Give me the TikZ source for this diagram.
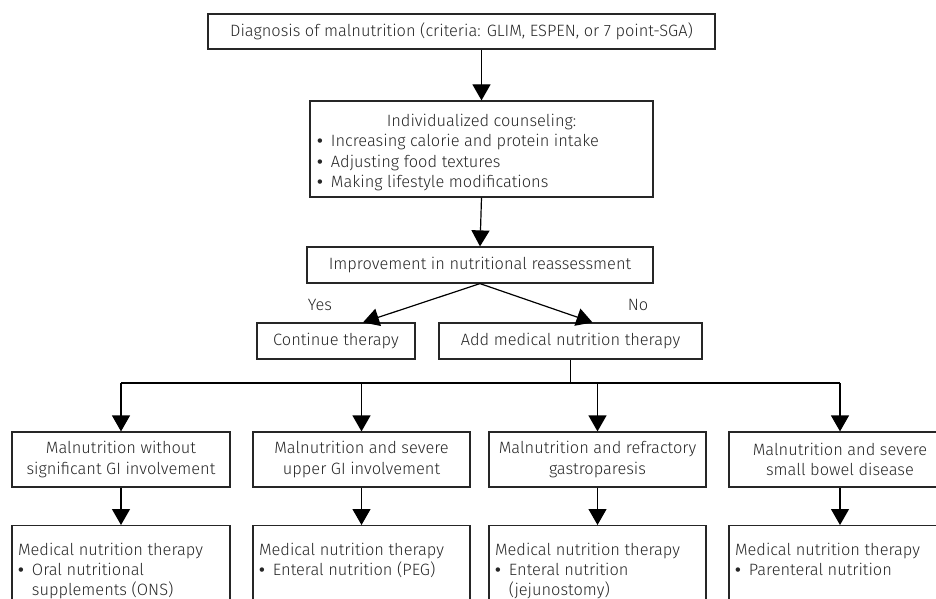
\documentclass[tikz,border=0pt]{standalone}
\usepackage{fontspec}
\setmainfont{Fira Sans Light}
\newfontfamily\bulfont{Liberation Sans}
\usetikzlibrary{arrows.meta}
\newcommand{\bul}{\makebox[0.85em][l]{\bulfont •}}
\begin{document}
\begin{tikzpicture}[x=1pt,y=1pt,
  box/.style={draw=black!85, line width=1.2pt, inner sep=0pt, text=black!85,
    font=\fontsize{16.4}{20.5}\selectfont},
  lbl/.style={text=black!85, font=\fontsize{16.4}{20.5}\selectfont},
  ln/.style={line width=1.2pt, draw=black},
  arr/.style={ln, -{Triangle[length=16pt,width=18pt]}}]
\clip (0,0) rectangle (936,-599);
% top chain
\node[box, minimum width=507, minimum height=35] (diag) at (461.5,-31.5)
  {Diagnosis of malnutrition (criteria: GLIM, ESPEN, or 7 point-SGA)};
\node[box, minimum width=343, minimum height=96] (couns) at (481.5,-149)
  {\parbox{329pt}{\vspace*{7pt}\centering Individualized counseling:\par\raggedright
   \bul Increasing calorie and protein intake\\
   \bul Adjusting food textures\\
   \bul Making lifestyle modifications}};
\node[box, minimum width=346, minimum height=36] (imp) at (480,-265)
  {Improvement in nutritional reassessment};
\node[box, minimum width=158, minimum height=36] (cont) at (336,-341)
  {Continue therapy};
\node[box, minimum width=263, minimum height=36] (add) at (570.5,-341)
  {Add medical nutrition therapy};
\node[lbl] (yes) at (320,-305) {Yes};
\node[lbl] (no) at (638,-305) {No};
% row 1
\node[box, minimum width=218, minimum height=55, align=center] (m1) at (121,-459.5)
  {Malnutrition without\\significant GI involvement};
\node[box, minimum width=217, minimum height=55, align=center] (m2) at (361.5,-459.5)
  {Malnutrition and severe\\upper GI involvement};
\node[box, minimum width=217, minimum height=55, align=center] (m3) at (597.5,-459.5)
  {Malnutrition and refractory\\gastroparesis};
\node[box, minimum width=222, minimum height=55, align=center] (m4) at (840,-459.5)
  {Malnutrition and severe\\small bowel disease};
% row 2
\tikzset{tbox/.style={box, anchor=north, inner xsep=6pt, inner ysep=18pt,
    font=\fontsize{16.4}{20}\selectfont}}
\node[tbox] (t1) at (121,-525)
  {\parbox[t][90pt][t]{206pt}{\raggedright Medical nutrition therapy\\
   \bul Oral nutritional\\\hphantom{\bul}supplements (ONS)}};
\node[tbox] (t2) at (361.5,-525)
  {\parbox[t][90pt][t]{205pt}{\raggedright Medical nutrition therapy\\
   \bul Enteral nutrition (PEG)}};
\node[tbox] (t3) at (597.5,-525)
  {\parbox[t][90pt][t]{205pt}{\raggedright Medical nutrition therapy\\
   \bul Enteral nutrition\\\hphantom{\bul}(jejunostomy)}};
\node[tbox] (t4) at (840,-525)
  {\parbox[t][90pt][t]{210pt}{\raggedright Medical nutrition therapy\\
   \bul Parenteral nutrition}};
% connectors
\draw[arr] (diag.south -| couns.north) -- (couns.north);
\draw[arr] (couns.south) -- (imp.north);
\draw[arr] (imp.south) -- ([xshift=27pt]cont.north);
\draw[arr] (imp.south) -- ([xshift=22pt]add.north);
\coordinate (busL) at (121,-383);
\coordinate (busR) at (840,-383);
\draw[ln] (add.south) -- (add.south |- busL);
\draw[ln] (busL) -- (busR);
\draw[arr] (busL) -- (m1.north);
\draw[arr] (m2.north |- busL) -- (m2.north);
\draw[arr] (m3.north |- busL) -- (m3.north);
\draw[arr] (busR) -- (m4.north);
\draw[arr] (m1.south) -- (t1.north);
\draw[arr] (m2.south) -- (t2.north);
\draw[arr] (m3.south) -- (t3.north);
\draw[arr] (m4.south) -- (t4.north);
\end{tikzpicture}
\end{document}
